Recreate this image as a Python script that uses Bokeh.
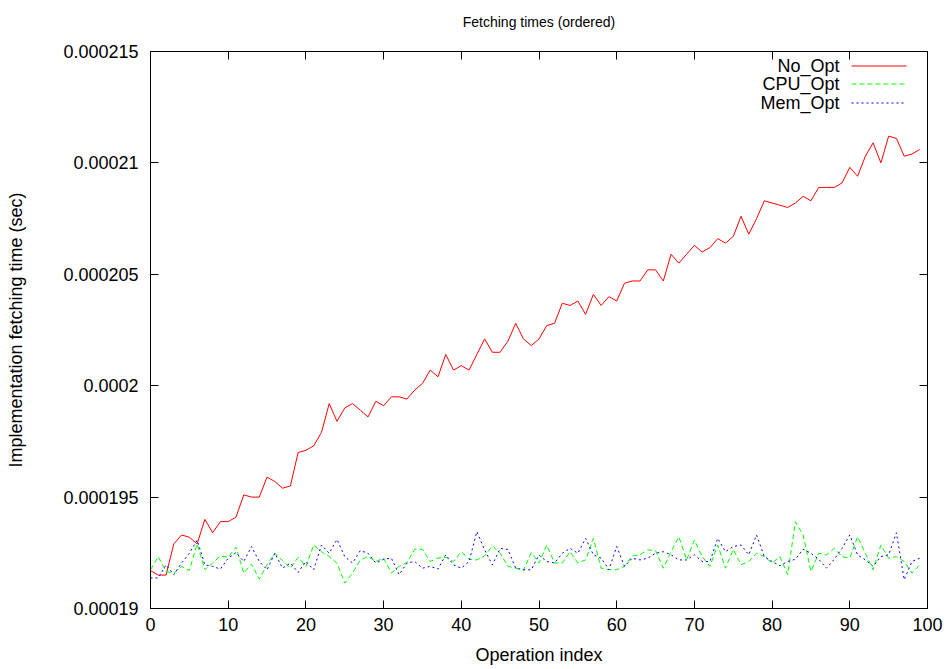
from bokeh.plotting import figure
from bokeh.models import (Range1d, LinearAxis, FixedTicker, CustomJSTickFormatter,
                          ColumnDataSource, Label, Arrow, CustomLabelingPolicy)
from bokeh.embed import file_html
from bokeh.resources import INLINE

# ---- data (times in microseconds, converted to seconds below) ----
op_index = list(range(100))

no_opt_us = [191.7, 191.5, 191.5, 192.9, 193.3, 193.2, 192.9, 194.0, 193.4, 193.9,
             193.9, 194.1, 195.1, 195.0, 195.0, 195.9, 195.7, 195.4, 195.5, 197.0,
             197.1, 197.3, 197.9, 199.2, 198.4, 199.0, 199.2, 198.9, 198.6, 199.3,
             199.1, 199.5, 199.5, 199.4, 199.8, 200.1, 200.7, 200.4, 201.4, 200.7,
             200.9, 200.7, 201.4, 202.1, 201.5, 201.5, 202.0, 202.8, 202.1, 201.8,
             202.1, 202.7, 202.8, 203.7, 203.6, 203.8, 203.2, 204.1, 203.6, 204.0,
             203.8, 204.6, 204.7, 204.7, 205.2, 205.2, 204.7, 205.9, 205.5, 205.9,
             206.3, 206.0, 206.2, 206.6, 206.4, 206.7, 207.6, 206.8, 207.5, 208.3,
             208.2, 208.1, 208.0, 208.2, 208.5, 208.3, 208.9, 208.9, 208.9, 209.1,
             209.8, 209.4, 210.3, 210.9, 210.0, 211.2, 211.1, 210.3, 210.4, 210.6]

cpu_opt_us = [191.74, 192.33, 191.66, 191.59, 191.89, 191.71, 192.90, 191.74, 192.04, 192.36,
              192.30, 192.75, 191.59, 192.00, 191.32, 191.96, 192.48, 192.15, 191.81, 192.30,
              191.89, 192.85, 192.55, 192.33, 192.04, 191.14, 191.59, 192.18, 192.33, 192.11,
              192.26, 191.59, 191.89, 192.06, 192.66, 192.66, 192.11, 192.26, 192.30, 192.11,
              192.55, 192.21, 192.18, 192.36, 192.81, 192.48, 191.89, 191.81, 191.71, 192.51,
              192.04, 192.85, 192.04, 192.04, 192.55, 192.04, 192.18, 193.15, 191.81, 191.74,
              191.74, 191.89, 192.36, 192.41, 192.63, 192.60, 191.81, 192.55, 193.22, 192.18,
              193.07, 192.33, 191.89, 192.85, 191.81, 192.65, 191.96, 192.11, 192.48, 192.33,
              192.04, 192.33, 191.52, 193.89, 193.30, 191.66, 192.48, 192.41, 192.70, 192.33,
              192.26, 193.22, 192.48, 191.74, 192.85, 192.26, 192.33, 192.11, 191.59, 191.96]

mem_opt_us = [191.37, 191.37, 191.96, 191.52, 192.04, 192.48, 193.07, 191.96, 191.89, 191.77,
              192.26, 192.51, 192.11, 192.78, 192.11, 191.74, 192.48, 191.81, 192.04, 191.62,
              192.11, 191.74, 192.85, 192.48, 193.10, 192.33, 192.04, 192.60, 192.48, 192.04,
              192.21, 192.26, 191.52, 192.04, 192.11, 191.81, 191.89, 191.77, 192.41, 191.96,
              191.81, 192.11, 193.45, 192.63, 191.96, 192.70, 192.65, 191.81, 191.74, 191.74,
              192.40, 192.11, 192.04, 192.48, 192.70, 192.48, 193.15, 192.41, 192.26, 191.74,
              192.78, 191.89, 192.26, 192.18, 192.26, 192.48, 192.55, 192.41, 192.18, 192.18,
              192.41, 192.11, 192.11, 193.15, 192.55, 192.78, 192.85, 192.41, 193.30, 192.33,
              192.11, 191.92, 192.11, 192.21, 192.66, 192.48, 192.21, 191.81, 192.21, 192.70,
              193.30, 192.41, 192.18, 191.89, 192.33, 192.41, 193.40, 191.29, 192.11, 192.26]

series_names = ["No_Opt", "CPU_Opt", "Mem_Opt"]
series_colors = ["#ff0000", "#00ff00", "#0000ff"]
series_dashes = ["solid", "5 3", "2 3"]
x_ticks = [0, 10, 20, 30, 40, 50, 60, 70, 80, 90, 100]
y_ticks_us = [190, 195, 200, 205, 210, 215]

US = 1e-6
source = ColumnDataSource(dict(
    x=op_index,
    no_opt=[v * US for v in no_opt_us],
    cpu_opt=[v * US for v in cpu_opt_us],
    mem_opt=[v * US for v in mem_opt_us],
))
y_ticks = [v * US for v in y_ticks_us]

FONT = "Liberation Sans"
W, H = 947, 667
FRAME_L, FRAME_R, FRAME_T, FRAME_B = 150, 927, 49, 609

p = figure(width=W, height=H, output_backend="svg", toolbar_location=None,
           x_range=Range1d(x_ticks[0], x_ticks[-1]),
           y_range=Range1d(y_ticks[0], y_ticks[-1]),
           min_border_left=FRAME_L, min_border_right=W - FRAME_R,
           min_border_top=FRAME_T, min_border_bottom=H - FRAME_B,
           title="Fetching times (ordered)")

p.background_fill_color = "white"
p.border_fill_color = "white"
p.outline_line_color = "black"
p.outline_line_width = 1
p.grid.visible = False

p.title.text_font = FONT
p.title.text_font_size = "14px"
p.title.text_font_style = "normal"
p.title.text_color = "black"
p.title.align = "center"
p.title.standoff = 22

yfmt = CustomJSTickFormatter(code="return String(+tick.toPrecision(6));")

p.xaxis.ticker = FixedTicker(ticks=x_ticks)
p.yaxis.ticker = FixedTicker(ticks=y_ticks)
p.yaxis.formatter = yfmt
p.xaxis.axis_label = "Operation index"
p.yaxis.axis_label = "Implementation fetching time (sec)"

for ax in (p.xaxis[0], p.yaxis[0]):
    ax.major_tick_in = 8
    ax.major_tick_out = 0
    ax.minor_tick_in = 0
    ax.minor_tick_out = 0
    ax.axis_line_color = "black"
    ax.major_tick_line_color = "black"
    ax.major_label_text_font = FONT
    ax.major_label_text_font_size = "18px"
    ax.major_label_text_color = "black"
    ax.axis_label_text_font = FONT
    ax.axis_label_text_font_size = "18px"
    ax.axis_label_text_font_style = "normal"
    ax.axis_label_text_color = "black"

p.xaxis.major_label_standoff = 9
p.xaxis.axis_label_standoff = 11
p.yaxis.major_label_standoff = 12
p.yaxis.axis_label_standoff = 34

# mirrored ticks (top and right) without labels
no_labels = CustomLabelingPolicy(code="const result = new Set()\nreturn result")
top = LinearAxis(ticker=FixedTicker(ticks=x_ticks), major_tick_in=8, major_tick_out=0,
                 minor_tick_in=0, minor_tick_out=0, axis_line_color=None,
                 major_label_policy=no_labels, major_label_standoff=0)
right = LinearAxis(ticker=FixedTicker(ticks=y_ticks), major_tick_in=8, major_tick_out=0,
                   minor_tick_in=0, minor_tick_out=0, axis_line_color=None,
                   major_label_policy=no_labels, major_label_standoff=0,
                   major_label_text_font_size="0px")
p.add_layout(top, "above")
p.add_layout(right, "right")

cols = ["no_opt", "cpu_opt", "mem_opt"]
for col, c, d in zip(cols, series_colors, series_dashes):
    p.line("x", col, source=source, line_color=c, line_width=1, line_dash=d)

# gnuplot-style key: right-aligned text followed by a line sample (frame screen units)
key_text_right = 689
key_sample = (701, 756)
key_rows = [542.5, 524.5, 505.5]
for c, d, yk in zip(series_colors, series_dashes, key_rows):
    p.add_layout(Arrow(end=None, start_units="screen", end_units="screen",
                       x_start=key_sample[0], y_start=yk,
                       x_end=key_sample[1], y_end=yk,
                       line_color=c, line_width=1.2, line_dash=d, line_alpha=1.0))
for name, yk in zip(series_names, key_rows):
    p.add_layout(Label(x=key_text_right, y=yk, x_units="screen", y_units="screen",
                       text=name, text_align="right", text_baseline="middle",
                       text_font=FONT, text_font_size="18px", text_color="black"))

open("out.html", "w").write(file_html(p, INLINE))
